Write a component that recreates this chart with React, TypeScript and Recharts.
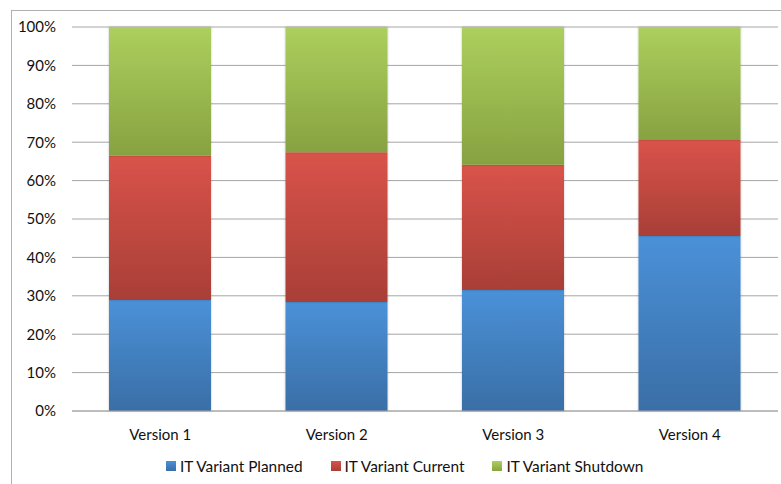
import { Bar, BarChart, CartesianGrid, Legend, XAxis, YAxis } from "recharts";

const versions = ["Version 1", "Version 2", "Version 3", "Version 4"];
const planned = [28.9, 28.4, 31.5, 45.6];
const current = [37.6, 39.0, 32.6, 25.0];
const shutdown = [33.5, 32.6, 35.9, 29.4];
const yTicks = [0, 10, 20, 30, 40, 50, 60, 70, 80, 90, 100];

const series = [
  { key: "planned", name: "IT Variant Planned", top: "#4a91d8", bottom: "#3a6ea6" },
  { key: "current", name: "IT Variant Current", top: "#d9534a", bottom: "#a83f37" },
  { key: "shutdown", name: "IT Variant Shutdown", top: "#accf5d", bottom: "#87a241" },
];

const data = versions.map((v, i) => ({
  name: v,
  planned: planned[i],
  current: current[i],
  shutdown: shutdown[i],
}));

const font = "Lato, 'Noto Sans', sans-serif";

function LegendBox() {
  return (
    <div
      style={{
        display: "flex",
        paddingLeft: 166,
        height: 28,
        lineHeight: "20px",
        fontFamily: font,
        fontSize: 15.4,
        color: "#111",
      }}
    >
      {series.map((s) => (
        <div key={s.key} style={{ display: "flex", alignItems: "center", marginRight: 28, height: 20 }}>
          <span
            style={{
              display: "inline-block",
              width: 10,
              height: 10,
              marginRight: 4,
              background: `linear-gradient(${s.top}, ${s.bottom})`,
            }}
          />
          {s.name}
        </div>
      ))}
    </div>
  );
}

export default function App() {
  return (
    <div style={{ position: "absolute", left: 0, top: 0, width: 781, height: 484, overflow: "hidden", background: "#fff" }}>
      <div
        style={{
          position: "absolute",
          left: 11,
          top: 10,
          width: 800,
          height: 500,
          border: "1px solid #b0b0b0",
        }}
      />
      <BarChart
        width={781}
        height={484}
        data={data}
        margin={{ top: 27, right: 3, left: 0, bottom: 0 }}
      >
        <defs>
          {series.map((s) => (
            <linearGradient key={s.key} id={`grad-${s.key}`} x1="0" y1="0" x2="0" y2="1">
              <stop offset="0%" stopColor={s.top} />
              <stop offset="100%" stopColor={s.bottom} />
            </linearGradient>
          ))}
          <filter id="barShadow" x="-10%" y="-10%" width="120%" height="120%">
            <feDropShadow dx="0" dy="0" stdDeviation="1.2" floodColor="#000" floodOpacity="0.25" />
          </filter>
        </defs>
        <CartesianGrid vertical={false} stroke="#a6a6a6" />
        <XAxis
          dataKey="name"
          axisLine={{ stroke: "#a6a6a6" }}
          tickLine={false}
          tickSize={0}
          tickMargin={18}
          height={45}
          tick={{ fill: "#111", fontSize: 15, fontFamily: font }}
        />
        <YAxis
          domain={[0, 100]}
          ticks={yTicks}
          tickFormatter={(v: number) => `${v}%`}
          axisLine={false}
          tickLine={false}
          tickSize={0}
          tickMargin={16}
          width={72}
          tick={{ fill: "#111", fontSize: 15, fontFamily: font }}
          interval={0}
        />
        <Legend
          verticalAlign="bottom"
          content={() => <LegendBox />}
          wrapperStyle={{ left: 0, width: 781, height: 28 }}
        />
        {series.map((s) => (
          <Bar
            key={s.key}
            dataKey={s.key}
            name={s.name}
            stackId="a"
            barSize={102}
            fill={`url(#grad-${s.key})`}
            filter="url(#barShadow)"
            isAnimationActive={false}
          />
        ))}
      </BarChart>
    </div>
  );
}
